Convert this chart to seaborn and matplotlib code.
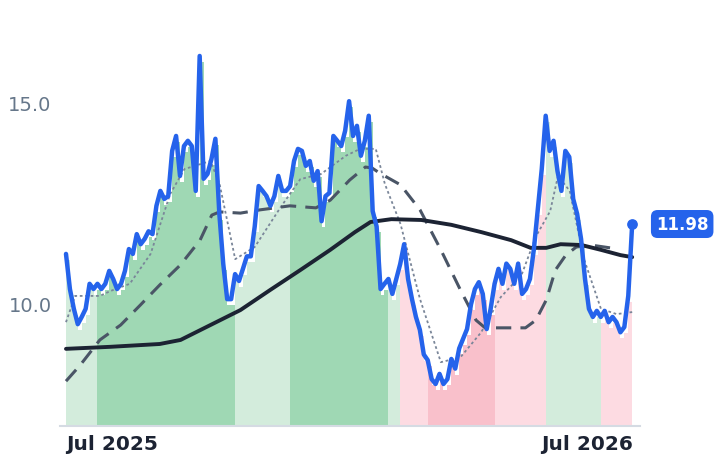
import matplotlib.pyplot as plt
import numpy as np
import pandas as pd
import seaborn as sns

# daily-ish closes, spread evenly over 2025-07-01 .. 2026-09-09 (435 days)
price = [11.24, 10.37, 9.88, 9.50, 9.68, 9.88, 10.50, 10.37, 10.50, 10.37, 10.50, 10.82, 10.62,
         10.37, 10.50, 10.82, 11.36, 11.24, 11.73, 11.48, 11.61, 11.80, 11.73, 12.43, 12.80,
         12.60, 12.67, 13.79, 14.16, 13.17, 13.91, 14.04, 13.91, 12.80, 16.14, 13.10, 13.22,
         13.59, 14.09, 12.23, 10.99, 10.12, 10.12, 10.74, 10.57, 10.87, 11.18, 11.18, 11.92,
         12.92, 12.80, 12.67, 12.43, 12.67, 13.17, 12.80, 12.80, 12.92, 13.54, 13.84, 13.79,
         13.42, 13.54, 13.05, 13.29, 12.05, 12.67, 12.75, 14.16, 14.04, 13.91, 14.29, 15.02,
         14.16, 14.41, 13.67, 14.04, 14.66, 12.30, 11.92, 10.37, 10.50, 10.62, 10.25, 10.62,
         10.99, 11.48, 10.62, 10.12, 9.68, 9.36, 8.75, 8.61, 8.14, 8.02, 8.27, 8.02, 8.14,
         8.64, 8.40, 8.90, 9.14, 9.38, 9.99, 10.37, 10.54, 10.25, 9.38, 9.88, 10.50, 10.87,
         10.50, 11.00, 10.87, 10.50, 11.00, 10.25, 10.37, 10.62, 11.36, 12.35, 13.34, 14.66,
         13.79, 14.04, 13.29, 12.80, 13.79, 13.64, 12.60, 12.23, 11.61, 10.62, 9.88, 9.68,
         9.83, 9.68, 9.83, 9.55, 9.68, 9.55, 9.30, 9.43, 10.20, 11.98]
price_days = np.linspace(0, 435, len(price))

ma200_days = [0, 34, 72, 88, 111, 134, 157, 180, 203, 222, 234, 250, 273, 296, 319, 342, 357,
              369, 380, 396, 411, 426, 435]
ma200 = [8.89, 8.94, 9.01, 9.11, 9.48, 9.85, 10.35, 10.84, 11.34, 11.78, 12.03, 12.10, 12.08,
         11.96, 11.78, 11.58, 11.39, 11.39, 11.48, 11.46, 11.34, 11.21, 11.16]

ma50_days = [0, 11, 26, 42, 57, 72, 88, 103, 112, 118, 134, 149, 172, 192, 203, 218, 230, 235,
             241, 257, 272, 288, 303, 315, 322, 334, 353, 361, 369, 376, 384, 392, 403, 418]
ma50 = [8.09, 8.49, 9.11, 9.48, 9.97, 10.47, 10.97, 11.58, 12.20, 12.28, 12.25, 12.33, 12.43,
        12.38, 12.57, 13.07, 13.39, 13.37, 13.24, 12.95, 12.33, 11.34, 10.35, 9.60, 9.41, 9.41,
        9.41, 9.60, 10.10, 10.84, 11.21, 11.41, 11.46, 11.39]

ma20_days = [0, 7, 26, 34, 49, 65, 80, 91, 111, 118, 130, 145, 165, 180, 196, 215, 226, 238,
             245, 257, 272, 288, 303, 319, 334, 350, 361, 372, 378, 387, 398, 411, 423, 435]
ma20 = [9.55, 10.20, 10.20, 10.32, 10.50, 11.24, 12.72, 13.34, 13.54, 12.97, 11.11, 11.41,
        12.40, 13.09, 13.22, 13.67, 13.84, 13.84, 12.97, 11.98, 10.12, 8.56, 8.68, 9.30, 10.17,
        10.72, 11.67, 12.30, 13.17, 12.80, 11.11, 9.88, 9.75, 9.80]

# regime segments (edges in days, colour per segment)
seg_edges = [0, 22, 129, 170, 246, 255, 276, 329, 368, 410, 435]
seg_colors = ["#d3ecdc", "#9fd8b4", "#d3ecdc", "#9fd8b4", "#d3ecdc",
              "#fddbe2", "#f9c0cb", "#fddbe2", "#d3ecdc", "#fddbe2"]

df = pd.DataFrame({"day": price_days, "price": price})

sns.set_theme(style="white")
fig = plt.figure(figsize=(7.18, 4.64), dpi=100)
ax = fig.add_axes([60 / 718, 1 - 427 / 464, 580 / 718, 427 / 464])

d = np.asarray(price_days)
p = np.asarray(price)
for i, c in enumerate(seg_colors):
    lo, hi = seg_edges[i], seg_edges[i + 1]
    m = (d >= lo) & (d <= hi + 3)
    ax.fill_between(d[m], 0, p[m] - 0.15, step="post", color=c, lw=0, zorder=1)

ax.plot(ma20_days, ma20, color="#7a8699", lw=1.3, ls=(0, (1.5, 1.5)), zorder=2)
ax.plot(ma50_days, ma50, color="#4a5566", lw=2.2, ls=(0, (5, 3)), zorder=2)
ax.plot(ma200_days, ma200, color="#1c2333", lw=2.8, zorder=3)
sns.lineplot(data=df, x="day", y="price", color="#2563eb", lw=3.2, ax=ax, zorder=4)

ax.scatter([price_days[-1]], [price[-1]], s=45, color="#2563eb", zorder=5)
ax.annotate(f"{price[-1]:.2f}", xy=(price_days[-1], price[-1]), xytext=(36, 0),
            textcoords="offset points", ha="center", va="center", color="white",
            fontsize=12, fontweight="bold",
            bbox=dict(boxstyle="round,pad=0.3,rounding_size=0.4", fc="#2563eb", ec="none"))

ax.set_xlim(-4.6, 441)
ax.set_ylim(6.98, 17.55)
ax.set_xticks([0, 365])
ax.set_xticklabels(["Jul 2025", "Jul 2026"], ha="left", fontsize=14.5, fontweight="bold",
                   color="#1c2333")
ax.set_yticks([10, 15])
ax.set_yticklabels(["10.0", "15.0"], fontsize=14, color="#66778a")
ax.tick_params(axis="both", length=0, pad=6)
ax.set_xlabel("")
ax.set_ylabel("")
for s in ["top", "right", "left"]:
    ax.spines[s].set_visible(False)
ax.spines["bottom"].set_color("#d5dbe3")
ax.spines["bottom"].set_linewidth(1.5)

fig.savefig("out.png", dpi=100)
